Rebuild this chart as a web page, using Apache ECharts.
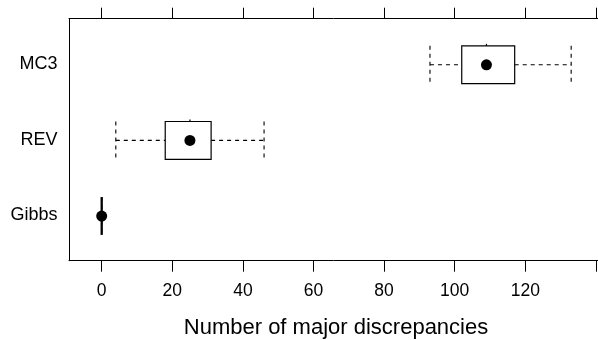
<!DOCTYPE html>
<html>
<head>
<meta charset="utf-8">
<script src="https://cdn.jsdelivr.net/npm/echarts@6/dist/echarts.min.js"></script>
<style>
  html, body { margin: 0; padding: 0; background: #fff; }
  #main { width: 598px; height: 340px; }
</style>
</head>
<body>
<div id="main"></div>
<script>
// box statistics, bottom to top
var categories = ['Gibbs', 'REV', 'MC3'];
var whiskerLow = [0, 4, 93];
var boxLow = [0, 18, 102];
var medians = [0, 25, 109];
var boxHigh = [0, 31, 117];
var whiskerHigh = [0, 46, 133];
var tickValues = [0, 20, 40, 60, 80, 100, 120, 140];

var xMin = -9.26, xMax = 140.6;
var font = 'Liberation Sans, Arial, Helvetica, sans-serif';

var boxData = categories.map(function (c, i) {
  return [i + 1, whiskerLow[i], boxLow[i], medians[i], boxHigh[i], whiskerHigh[i]];
});

function renderBox(params, api) {
  var y = api.value(0);
  var pLo = api.coord([api.value(1), y]);
  var pBl = api.coord([api.value(2), y]);
  var pMd = api.coord([api.value(3), y]);
  var pBh = api.coord([api.value(4), y]);
  var pHi = api.coord([api.value(5), y]);
  var h = api.size([0, 0.25])[1];
  var cy = pMd[1] + 0.7;
  var dash = { stroke: '#000', lineWidth: 1.1, lineDash: [4, 4] };
  var solid = { stroke: '#000', lineWidth: 1.2, fill: null };
  var kids = [
    { type: 'line', shape: { x1: pLo[0], y1: cy, x2: pBl[0], y2: cy }, style: dash },
    { type: 'line', shape: { x1: pBh[0], y1: cy, x2: pHi[0], y2: cy }, style: dash },
    { type: 'line', shape: { x1: pLo[0], y1: cy - h, x2: pLo[0], y2: cy + h }, style: dash },
    { type: 'line', shape: { x1: pHi[0], y1: cy - h, x2: pHi[0], y2: cy + h }, style: dash }
  ];
  if (pBh[0] - pBl[0] < 1) {
    // collapsed box: just a heavy bar
    kids.push({ type: 'line', shape: { x1: pBl[0], y1: cy - h, x2: pBl[0], y2: cy + h },
      style: { stroke: '#000', lineWidth: 2.3 } });
  } else {
    kids.push({ type: 'rect', shape: { x: pBl[0], y: cy - h, width: pBh[0] - pBl[0], height: 2 * h }, style: solid });
    kids.push({ type: 'line', shape: { x1: pMd[0], y1: cy - h - 2, x2: pMd[0], y2: cy - h }, style: solid });
  }
  kids.push({ type: 'circle', shape: { cx: pMd[0], cy: cy, r: 5.5 }, style: { fill: '#000' } });
  return { type: 'group', children: kids };
}

var chart = echarts.init(document.getElementById('main'));
var option = {
  animation: false,
  grid: { left: 69, right: 0, top: 18.7, bottom: 79.3, outerBoundsMode: 'none' },
  xAxis: [{
    type: 'value',
    position: 'bottom',
    min: xMin,
    max: xMax,
    splitLine: { show: false },
    axisLine: { show: true, onZero: false, lineStyle: { color: '#000', width: 1 } },
    axisTick: { show: true, length: 11, customValues: tickValues, lineStyle: { color: '#000' } },
    axisLabel: {
      customValues: tickValues,
      margin: 21,
      color: '#000',
      fontSize: 17.5,
      fontFamily: font,
      formatter: function (v) { return v > 130 ? '' : String(v); }
    },
    name: 'Number of major discrepancies',
    nameLocation: 'middle',
    nameGap: 56,
    nameTextStyle: { color: '#000', fontSize: 22, fontFamily: font, padding: [0, 0, 0, 5] }
  }, {
    type: 'value',
    position: 'top',
    min: xMin,
    max: xMax,
    splitLine: { show: false },
    axisLine: { show: true, onZero: false, lineStyle: { color: '#000', width: 1 } },
    axisTick: { show: true, length: 11, customValues: tickValues, lineStyle: { color: '#000' } },
    axisLabel: { show: false }
  }],
  yAxis: {
    type: 'value',
    position: 'left',
    min: 0.4,
    max: 3.6,
    splitLine: { show: false },
    axisLine: { show: true, onZero: false, lineStyle: { color: '#000', width: 1 } },
    axisTick: { show: false },
    axisLabel: {
      customValues: [1, 2, 3],
      margin: 11.5,
      padding: [4, 0, 0, 0],
      color: '#000',
      fontSize: 18,
      fontFamily: font,
      formatter: function (v) { return categories[Math.round(v) - 1] || ''; }
    }
  },
  series: [{
    type: 'custom',
    renderItem: renderBox,
    xAxisIndex: 0,
    encode: { x: [1, 2, 3, 4, 5], y: 0 },
    data: boxData,
    clip: false
  }]
};
chart.setOption(option);
</script>
</body>
</html>
